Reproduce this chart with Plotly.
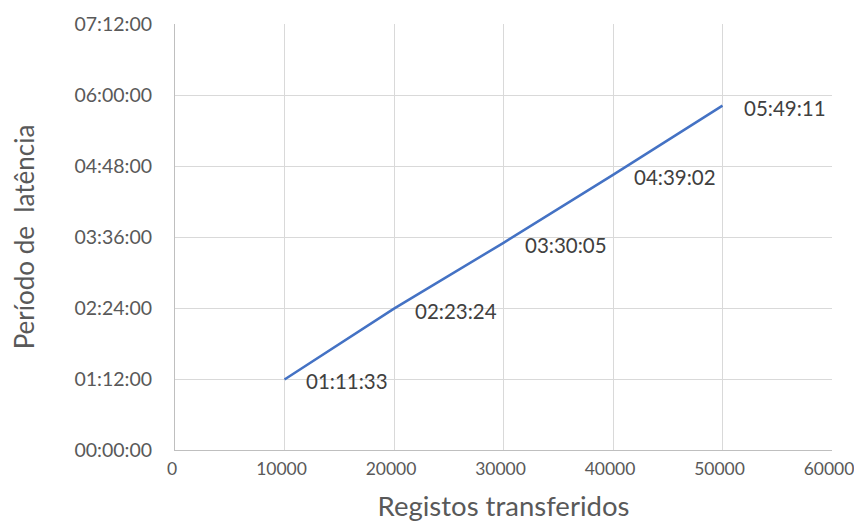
import plotly.graph_objects as go

registos = [10000, 20000, 30000, 40000, 50000]
latencia = ["01:11:33", "02:23:24", "03:30:05", "04:39:02", "05:49:11"]
y_ticks = ["00:00:00", "01:12:00", "02:24:00", "03:36:00", "04:48:00", "06:00:00", "07:12:00"]
x_ticks = [0, 10000, 20000, 30000, 40000, 50000, 60000]


def to_sec(s):
    h, m, sec = (int(p) for p in s.split(":"))
    return h * 3600 + m * 60 + sec


y_vals = [to_sec(v) for v in latencia]
y_tickvals = [to_sec(v) for v in y_ticks]

font_family = "Lato, 'Open Sans', sans-serif"
grey = "#595959"

fig = go.Figure()
fig.add_trace(go.Scatter(
    x=registos, y=y_vals, mode="lines",
    line=dict(color="#4472C4", width=2.5),
    hoverinfo="skip", showlegend=False,
))

for xv, yv, txt in zip(registos, y_vals, latencia):
    fig.add_annotation(x=xv, y=yv, text=txt, showarrow=False,
                       xanchor="left", yanchor="middle", xshift=19, yshift=-2,
                       font=dict(family=font_family, size=20.5, color="#404040"))

fig.update_layout(
    width=846, height=514,
    margin=dict(l=167, r=22, t=16, b=72),
    paper_bgcolor="white", plot_bgcolor="white",
    font=dict(family=font_family, size=18, color=grey),
    xaxis=dict(
        range=[0, 60000], tickvals=x_ticks, ticktext=[str(v) for v in x_ticks],
        showgrid=True, gridcolor="#d9d9d9", gridwidth=1,
        showline=True, linecolor="#bfbfbf", linewidth=1,
        zeroline=False, ticks="", ticklen=0, ticklabelstandoff=3,
        ticklabelshift=-3, ticklabeloverflow="allow",
        tickfont=dict(size=17.5, color=grey), automargin=False,
        title=dict(text="Registos transferidos", font=dict(size=27.5, color=grey), standoff=25),
    ),
    yaxis=dict(
        range=[0, to_sec("07:12:00")], tickvals=y_tickvals, ticktext=y_ticks,
        showgrid=True, gridcolor="#d9d9d9", gridwidth=1,
        showline=True, linecolor="#bfbfbf", linewidth=1,
        zeroline=False, ticks="", ticklen=0, ticklabelstandoff=18,
        tickfont=dict(size=19.5, color=grey), automargin=False,
        title=dict(text="Período de  latência", font=dict(size=26, color=grey), standoff=37),
    ),
)

fig.write_html("out.html")
